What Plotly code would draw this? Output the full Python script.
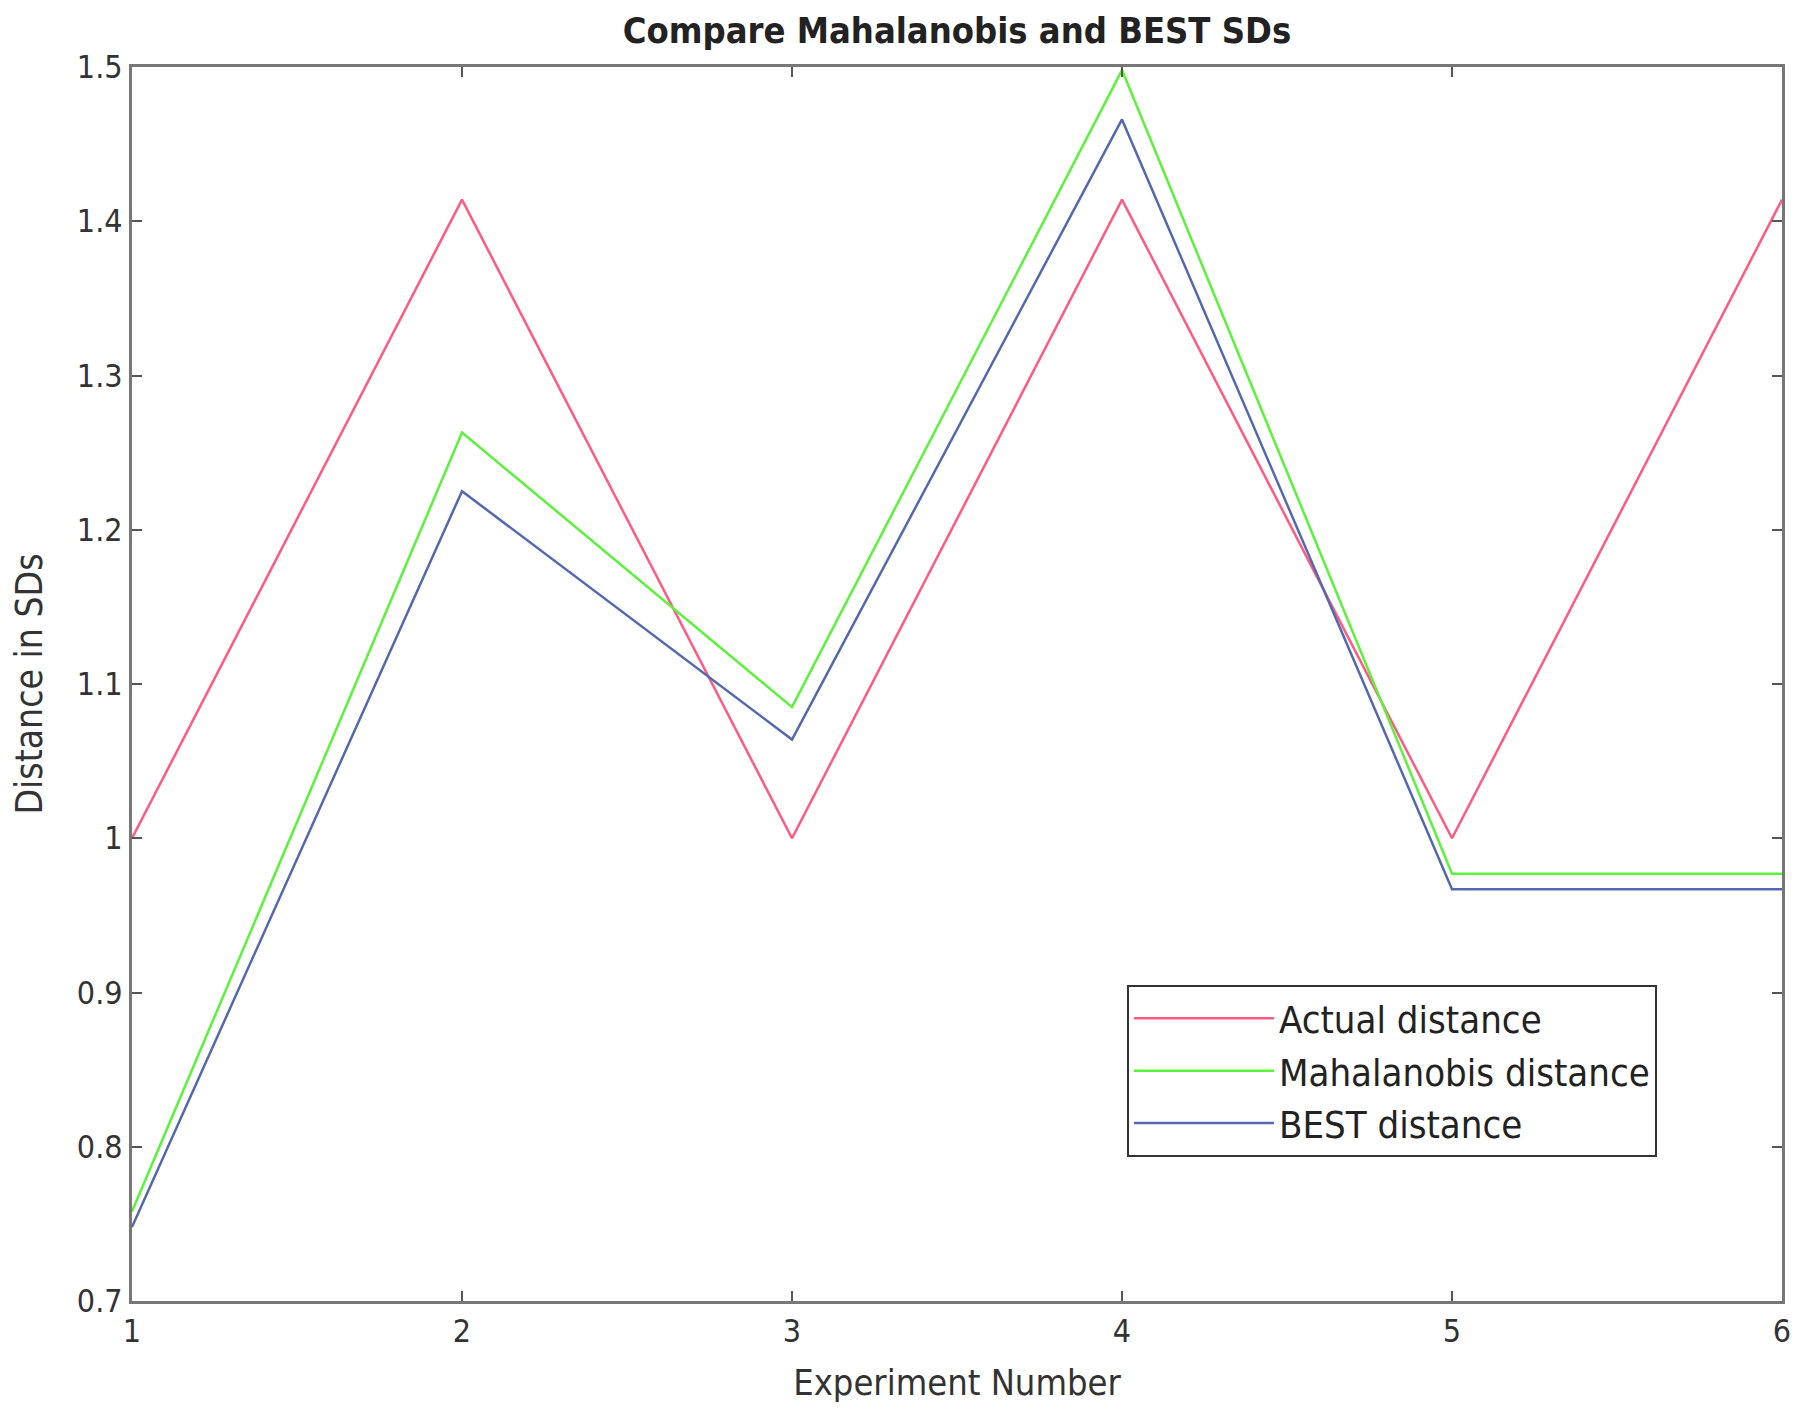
import plotly.graph_objects as go

experiments = [1, 2, 3, 4, 5, 6]
actual = [1.0, 1.414, 1.0, 1.414, 1.0, 1.414]
mahalanobis = [0.758, 1.263, 1.085, 1.498, 0.977, 0.977]
best = [0.748, 1.225, 1.064, 1.466, 0.967, 0.967]

y_ticks = [0.7, 0.8, 0.9, 1.0, 1.1, 1.2, 1.3, 1.4, 1.5]
y_ticktext = ["0.7", "0.8", "0.9", "1", "1.1", "1.2", "1.3", "1.4", "1.5"]
x_ticks = [1, 2, 3, 4, 5, 6]

FONT = "DejaVu Sans Condensed, Liberation Sans Narrow, Liberation Sans, Arial"

fig = go.Figure()
fig.add_trace(go.Scatter(x=experiments, y=actual, mode="lines", name="Actual distance",
                         line=dict(color="#ff5a82", width=2.5)))
fig.add_trace(go.Scatter(x=experiments, y=mahalanobis, mode="lines", name="Mahalanobis distance",
                         line=dict(color="#5cf23c", width=2.5)))
fig.add_trace(go.Scatter(x=experiments, y=best, mode="lines", name="BEST distance",
                         line=dict(color="#5468b0", width=2.5)))

axis_common = dict(showgrid=False, zeroline=False, showline=True, linecolor="#777777",
                   linewidth=3, mirror="ticks", ticks="inside", ticklen=10, tickwidth=2,
                   tickcolor="#555555", automargin=False,
                   tickfont=dict(family=FONT, size=32, color="#333333"))

fig.update_xaxes(range=[1, 6], tickvals=x_ticks,
                 title=dict(text="Experiment Number", font=dict(family=FONT, size=36, color="#333333"), standoff=21),
                 **axis_common)
fig.update_yaxes(range=[0.7, 1.5], tickvals=y_ticks, ticktext=y_ticktext,
                 title=dict(text="Distance in SDs", font=dict(family=FONT, size=37, color="#333333"), standoff=28),
                 **axis_common)

fig.update_layout(
    width=1800, height=1414,
    margin=dict(l=124, r=26, t=59, b=121),
    paper_bgcolor="white", plot_bgcolor="white",
    title=dict(text="<b>Compare Mahalanobis and BEST SDs</b>", x=0.5, xref="paper", xanchor="center",
               y=0.984, yanchor="middle", font=dict(family=FONT, size=36, color="#222222")),
    legend=dict(x=0.603, y=0.256, xanchor="left", yanchor="top",
                bgcolor="white", bordercolor="#333333", borderwidth=2,
                font=dict(family=FONT, size=38, color="#222222"),
                itemwidth=140, tracegroupgap=0),
    showlegend=True,
)

fig.write_html("out.html")
